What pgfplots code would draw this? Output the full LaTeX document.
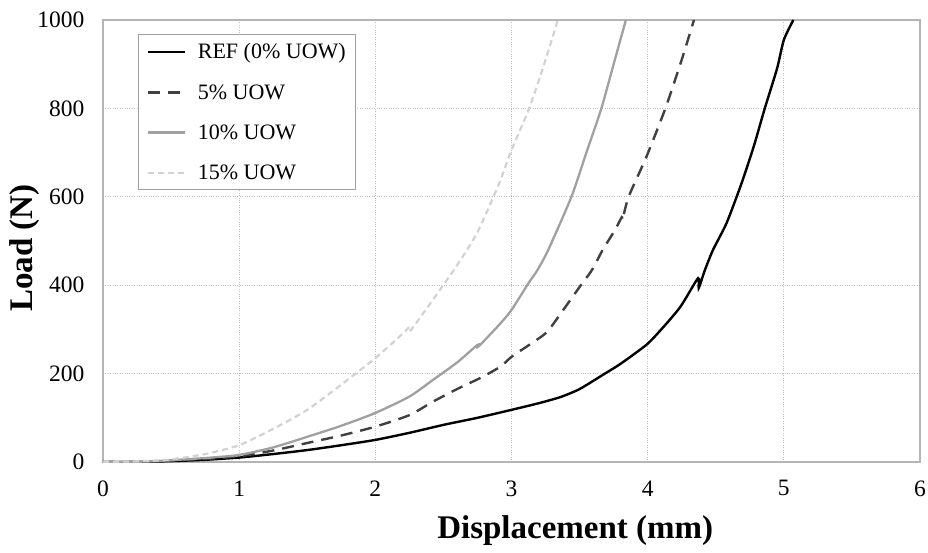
\documentclass[border=0pt]{standalone}
\usepackage{fontspec}
\setmainfont{Liberation Serif}
\usepackage{pgfplots}
\pgfplotsset{compat=1.18}
\definecolor{axgray}{HTML}{B4B4B4}
\definecolor{gridgray}{HTML}{BEBEBE}
\definecolor{dgray}{HTML}{404040}
\definecolor{mgray}{HTML}{A0A0A0}
\definecolor{lgray}{HTML}{D2D2D2}
\begin{document}
\begin{tikzpicture}
\path[use as bounding box] (-103pt,-90pt) rectangle (825pt,462pt);
\begin{axis}[
  scale only axis, width=817pt, height=442pt,
  xmin=0, xmax=6, ymin=0, ymax=1000,
  xtick={0,1,2,3,4,5,6}, ytick={0,200,400,600,800,1000},
  major tick length=0pt,
  axis line style={axgray, line width=1.2pt},
  grid=major,
  major grid style={gridgray, dotted, line width=1pt},
  /pgf/number format/assume math mode=true,
  /pgf/number format/1000 sep={},
  tick label style={font=\fontsize{23.5}{27}\selectfont},
  xticklabel style={yshift=-15pt},
  yticklabel style={xshift=-15pt},
  xlabel={Displacement (mm)},
  ylabel={Load (N)},
  label style={font=\fontsize{33}{38}\selectfont\bfseries},
  xlabel style={at={(axis description cs:0.578,-0.154)}, anchor=center},
  ylabel style={at={(axis description cs:-0.0955,0.484)}, anchor=center, rotate=0},
  legend style={at={(axis description cs:0.0428,0.968)}, anchor=north west,
    draw=mgray, line width=1pt, font=\fontsize{22}{25}\selectfont,
    inner xsep=8pt, inner ysep=7pt, row sep=20pt, column sep=10pt},
  legend cell align=left,
  legend image code/.code={\draw[#1, line width=2.4pt] (0pt,0pt) -- (37pt,0pt);},
]
\addplot[black, line width=2.4pt, smooth, tension=0.4] coordinates {
(0,0)(0.2,0)(0.5,2)(0.75,5)(1,10)(1.25,18)(1.5,27)(1.75,38)(2,50)(2.25,66)(2.5,84)(2.75,100)(3,118)(3.2,133)(3.36,147)(3.5,165)(3.67,197)(3.8,222)(3.99,265)(4.1,300)(4.24,351)(4.37,416)(4.375,394)(4.42,434)(4.48,480)(4.58,541)(4.69,631)(4.78,715)(4.86,800)(4.95,890)(5.0,955)(5.07,1000)};
\addlegendentry{REF (0\% UOW)}
\addplot[dgray, line width=2.4pt, dash pattern=on 12pt off 8pt, smooth, tension=0.4] coordinates {
(0,0)(0.3,1)(0.5,3)(0.75,7)(1,13)(1.25,26)(1.5,43)(1.75,60)(2,80)(2.25,106)(2.42,136)(2.6,165)(2.77,190)(2.92,216)(3,238)(3.13,265)(3.26,294)(3.38,344)(3.5,396)(3.59,434)(3.67,480)(3.76,525)(3.81,554)(3.815,548)(3.86,600)(3.99,690)(4.13,800)(4.25,910)(4.34,1000)};
\addlegendentry{5\% UOW}
\addplot[mgray, line width=2.3pt, smooth, tension=0.4] coordinates {
(0,0)(0.3,1)(0.5,4)(0.75,9)(1,16)(1.25,33)(1.5,57)(1.75,82)(2,111)(2.25,148)(2.42,185)(2.6,225)(2.75,265)(2.76,262)(2.92,314)(3,344)(3.13,407)(3.19,434)(3.27,480)(3.44,600)(3.55,700)(3.66,800)(3.75,900)(3.84,1000)};
\addlegendentry{10\% UOW}
\addplot[lgray, line width=2.2pt, dash pattern=on 6pt off 4pt, smooth, tension=0.4] coordinates {
(0,0)(0.3,2)(0.5,6)(0.75,18)(1,38)(1.25,75)(1.5,118)(1.75,175)(2,235)(2.2,290)(2.25,305)(2.26,298)(2.42,366)(2.6,445)(2.75,520)(2.91,631)(3,706)(3.13,800)(3.25,910)(3.34,1000)};
\addlegendentry{15\% UOW}
\end{axis}
\end{tikzpicture}
\end{document}
